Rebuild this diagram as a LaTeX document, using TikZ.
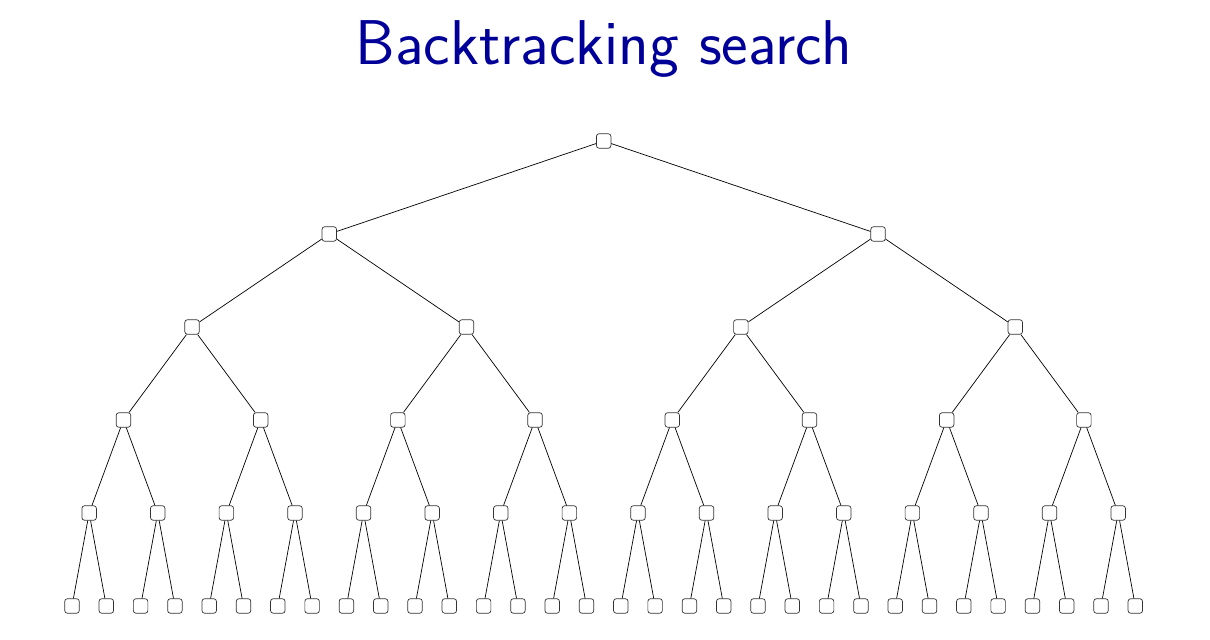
\documentclass[tikz,border=0pt]{standalone}
\usepackage{tikz}
\definecolor{titleblue}{RGB}{0,0,153}
\tikzset{
  state/.style={draw=black!80, fill=white, rounded corners=1.5pt, minimum size=0.29cm, inner sep=0pt},
}
\begin{document}
\begin{tikzpicture}
\useasboundingbox (0,0) rectangle (24.2,12.8);
\node[titleblue, font=\sffamily\fontsize{36}{42}\selectfont, anchor=base] (title) at (12.08,11.5) {Backtracking search};
% nodes, level by level
\foreach \d in {0,...,5} {
  \pgfmathtruncatemacro{\last}{2^\d-1}
  \pgfmathtruncatemacro{\w}{2^(5-\d)}
  \foreach \j in {0,...,\last} {
    \pgfmathsetmacro{\x}{1.44+0.686*(\j*\w+(\w-1)/2)}
    \node[state] (n-\d-\j) at (\x,9.98-1.86*\d) {};
  }
}
% edges to the parent
\foreach \d in {1,...,5} {
  \pgfmathtruncatemacro{\last}{2^\d-1}
  \pgfmathtruncatemacro{\p}{\d-1}
  \foreach \j in {0,...,\last} {
    \pgfmathtruncatemacro{\k}{floor(\j/2)}
    \draw (n-\p-\k) -- (n-\d-\j);
  }
}
\end{tikzpicture}
\end{document}
